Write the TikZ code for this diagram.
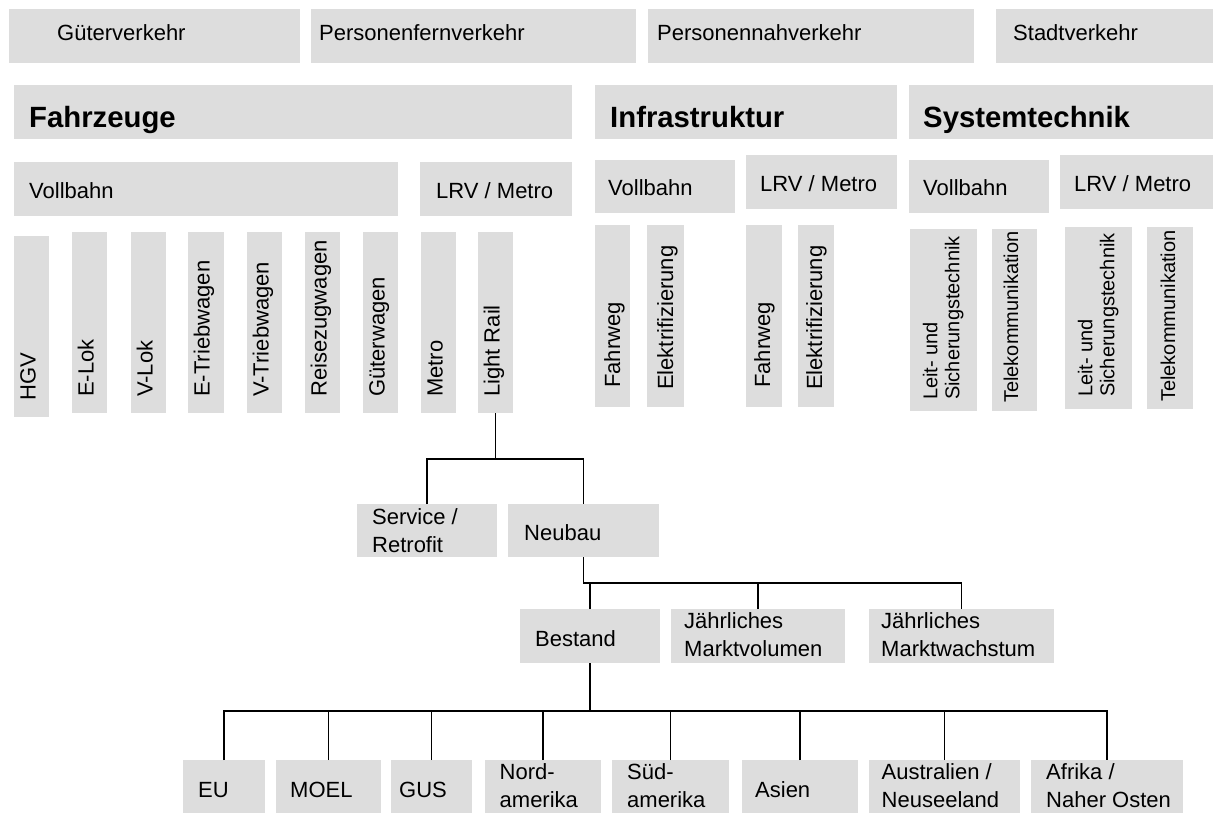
\documentclass[tikz,border=0pt]{standalone}
\usepackage{fontspec}
\setmainfont{Liberation Sans}
\definecolor{boxgray}{RGB}{221,221,221}
\tikzset{
  gbox/.style={fill=boxgray, draw=none, inner sep=0pt, anchor=north west},
  lbl/.style={inner sep=0pt, anchor=base west, font=\fontsize{22}{27.5}\selectfont, execute at begin node=\strut},
  lblml/.style={lbl, anchor=north west, align=left},
  lblb/.style={lbl, font=\fontsize{29.3}{35}\selectfont\bfseries},
  lbls/.style={lbl, font=\fontsize{20}{22}\selectfont, align=left},
  conn/.style={draw=black, line width=1.5pt},
}
\newcommand\gb[5]{%
  \pgfmathsetmacro\gbw{#4-#2}\pgfmathsetmacro\gbh{#5-#3}%
  \node[gbox, minimum width=\gbw pt, minimum height=\gbh pt] (#1) at (#2,#3) {};}
\newcommand\lb[5][]{\node[lbl,#1] (#2) at (#3,#4) {#5};}
\begin{document}
\begin{tikzpicture}[x=1pt,y=-1pt]
\useasboundingbox (0,0) rectangle (1213,813);
% top row
\gb{gv}{9}{9}{300}{63}
\gb{pfv}{311}{9}{636}{63}
\gb{pnv}{648}{9}{974}{63}
\gb{stv}{996}{9}{1213}{63}
\lb{tgv}{57}{41}{Güterverkehr}
\lb{tpfv}{319}{41}{Personenfernverkehr}
\lb{tpnv}{657}{41}{Personennahverkehr}
\lb{tstv}{1013}{41}{Stadtverkehr}
% row 2
\gb{fz}{14}{85}{572}{139}
\gb{inf}{595}{85}{897}{139}
\gb{sys}{909}{85}{1213}{139}
\lb[lblb]{tfz}{29}{128}{Fahrzeuge}
\lb[lblb]{tinf}{610}{128}{Infrastruktur}
\lb[lblb]{tsys}{923}{128}{Systemtechnik}
% row 3
\gb{fvb}{14}{162}{398}{216}
\gb{flrv}{420}{162}{572}{216}
\gb{ivb}{595}{160}{735}{213}
\gb{ilrv}{746}{155}{897}{209}
\gb{svb}{909}{160}{1049}{213}
\gb{slrv}{1060}{155}{1213}{209}
\lb{tfvb}{29}{199}{Vollbahn}
\lb{tflrv}{436}{199}{LRV / Metro}
\lb{tivb}{608}{196}{Vollbahn}
\lb{tilrv}{760}{191.5}{LRV / Metro}
\lb{tsvb}{923}{196}{Vollbahn}
\lb{tslrv}{1074}{191.5}{LRV / Metro}
% vehicles
\gb{hgv}{14}{236}{49}{417}
\gb{elok}{72}{232}{107}{413}
\gb{vlok}{131}{232}{166}{413}
\gb{etw}{188}{232}{224}{413}
\gb{vtw}{247}{232}{282}{413}
\gb{rzw}{305}{232}{340}{413}
\gb{gw}{363}{232}{398}{413}
\gb{met}{421}{232}{456}{413}
\gb{lr}{478}{232}{513}{413}
\lb[rotate=90]{thgv}{35.5}{401}{HGV}
\lb[rotate=90]{telok}{93.5}{397}{E-Lok}
\lb[rotate=90]{tvlok}{152.5}{397}{V-Lok}
\lb[rotate=90]{tetw}{209.5}{397}{E-Triebwagen}
\lb[rotate=90]{tvtw}{268.5}{397}{V-Triebwagen}
\lb[rotate=90]{trzw}{326.5}{397}{Reisezugwagen}
\lb[rotate=90]{tgw}{384.5}{397}{Güterwagen}
\lb[rotate=90]{tmet}{442.5}{397}{Metro}
\lb[rotate=90]{tlr}{499.5}{397}{Light Rail}
% infrastructure
\gb{fw1}{595}{225}{630}{407}
\gb{el1}{647}{225}{684}{407}
\gb{fw2}{746}{225}{782}{407}
\gb{el2}{798}{225}{834}{407}
\lb[rotate=90]{tfw1}{620}{388}{Fahrweg}
\lb[rotate=90]{tel1}{673}{390}{Elektrifizierung}
\lb[rotate=90]{tfw2}{770}{388}{Fahrweg}
\lb[rotate=90]{tel2}{822}{390}{Elektrifizierung}
% system
\gb{ls1}{910}{229}{977}{411}
\gb{tk1}{992}{229}{1037}{411}
\gb{ls2}{1065}{227}{1132}{409}
\gb{tk2}{1147}{227}{1193}{409}
\lb[lbls,rotate=90,anchor=north west]{tls1}{922.6}{400}{Leit- und\\Sicherungstechnik}
\lb[lbls,rotate=90]{ttk1}{1018}{403}{Telekommunikation}
\lb[lbls,rotate=90,anchor=north west]{tls2}{1077.6}{397}{Leit- und\\Sicherungstechnik}
\lb[lbls,rotate=90]{ttk2}{1175}{402}{Telekommunikation}
% tree level 1
\gb{svc}{357}{504}{497}{557}
\gb{neu}{508}{504}{659}{557}
\lb[lblml]{tsvc}{372}{508.75}{Service /\\Retrofit}
\lb{tneu}{524}{540}{Neubau}
% tree level 2
\gb{bst}{520}{609}{660}{663}
\gb{jmv}{671}{609}{845}{663}
\gb{jmw}{869}{609}{1054}{663}
\lb{tbst}{535}{646}{Bestand}
\lb[lblml]{tjmv}{684}{612.75}{Jährliches\\Marktvolumen}
\lb[lblml]{tjmw}{881}{612.75}{Jährliches\\Marktwachstum}
% tree level 3
\gb{eu}{183}{760}{265}{813}
\gb{moel}{276}{760}{381}{813}
\gb{gus}{391}{760}{472}{813}
\gb{nord}{485}{760}{601}{813}
\gb{sued}{612}{760}{729}{813}
\gb{asien}{742}{760}{858}{813}
\gb{aus}{869}{760}{1020}{813}
\gb{afr}{1031}{760}{1183}{813}
\lb{teu}{198}{797}{EU}
\lb{tmoel}{290}{797}{MOEL}
\lb{tgus}{399}{797}{GUS}
\lb[lblml]{tnord}{499.5}{763.75}{Nord-\\amerika}
\lb[lblml]{tsued}{627}{763.75}{Süd-\\amerika}
\lb{tasien}{755}{797}{Asien}
\lb[lblml]{taus}{881.5}{763.75}{Australien /\\Neuseeland}
\lb[lblml]{tafr}{1046}{763.75}{Afrika /\\Naher Osten}
% junction levels
\coordinate (j1) at (0,459);
\coordinate (j2) at (0,583);
\coordinate (j3) at (0,711);
% connectors
\draw[conn] (lr.south) -- (lr.south |- j1);
\draw[conn] (svc.north) -- (svc.north |- j1) -- (neu.north |- j1) -- (neu.north);
\draw[conn] (neu.south) -- (neu.south |- j2) -- (jmw.north |- j2) -- (jmw.north);
\draw[conn] (bst.north) -- (bst.north |- j2);
\draw[conn] (jmv.north) -- (jmv.north |- j2);
\draw[conn] (bst.south) -- (bst.south |- j3);
\draw[conn] (eu.north) -- (eu.north |- j3) -- (afr.north |- j3) -- (afr.north);
\foreach \n in {moel,gus,nord,sued,asien,aus}{
  \draw[conn] (\n.north) -- (\n.north |- j3);
}
\end{tikzpicture}
\end{document}
